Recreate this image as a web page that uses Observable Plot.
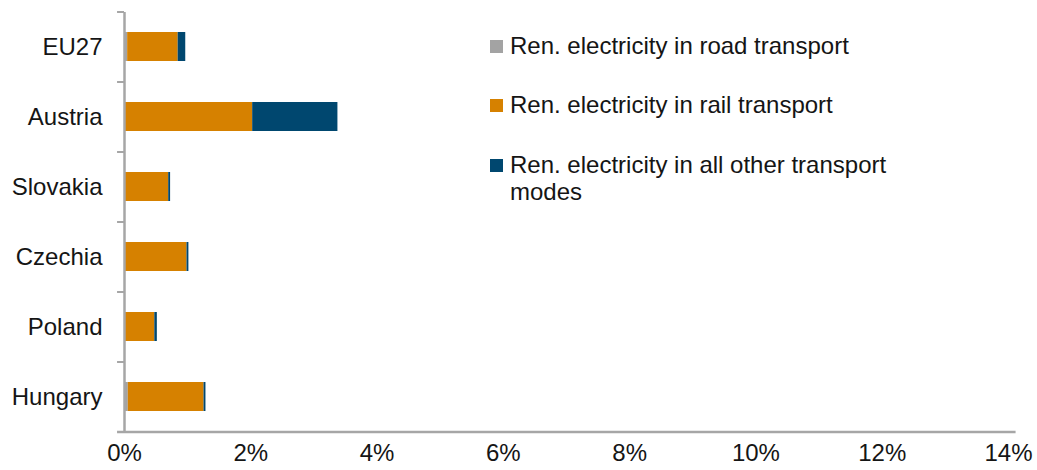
<!DOCTYPE html>
<html>
<head>
<meta charset="utf-8">
<script src="https://cdn.jsdelivr.net/npm/d3@7"></script>
<script src="https://cdn.jsdelivr.net/npm/@observablehq/plot@0.6"></script>
<style>
  html, body { margin: 0; padding: 0; background: #fff; }
  #wrap { position: relative; width: 1037px; height: 470px; overflow: hidden; font-family: "Liberation Sans", Arial, sans-serif; }
  #legend { position: absolute; left: 490px; top: 0; font-size: 24px; color: #151515; }
  .item { position: absolute; left: 0; white-space: nowrap; line-height: 27px; }
  .sw { position: absolute; left: 0; width: 13px; height: 13px; }
  .lab { position: absolute; left: 20px; }
</style>
</head>
<body>
<div id="wrap"><div id="legend"></div></div>
<script>
const countries = ["EU27", "Austria", "Slovakia", "Czechia", "Poland", "Hungary"];
const seriesNames = [
  "Ren. electricity in road transport",
  "Ren. electricity in rail transport",
  "Ren. electricity in all other transport modes"
];
const legendLines = [
  ["Ren. electricity in road transport"],
  ["Ren. electricity in rail transport"],
  ["Ren. electricity in all other transport", "modes"]
];
const colors = ["#a3a3a3", "#d68100", "#00476f"];
const roadValues  = [0.05, 0.00, 0.01, 0.01, 0.00, 0.06];
const railValues  = [0.80, 2.03, 0.69, 0.98, 0.48, 1.20];
const otherValues = [0.12, 1.35, 0.03, 0.03, 0.04, 0.03];
const xTicks = [0, 2, 4, 6, 8, 10, 12, 14];

const data = [];
countries.forEach((c, i) => {
  data.push({country: c, series: seriesNames[0], value: roadValues[i]});
  data.push({country: c, series: seriesNames[1], value: railValues[i]});
  data.push({country: c, series: seriesNames[2], value: otherValues[i]});
});

const axisColor = "#a6a6a6";
const font = "Liberation Sans, Arial, sans-serif";

const chart = Plot.plot({
  width: 1037,
  height: 470,
  marginLeft: 124,
  marginRight: 29,
  marginTop: 12,
  marginBottom: 38,
  style: {fontFamily: font, fontSize: "24px", color: "#151515", background: "#fff", overflow: "visible"},
  x: {domain: [0, 14], ticks: xTicks, tickFormat: d => d + "%", label: null},
  y: {domain: countries, paddingInner: 0.58, paddingOuter: 0.29, label: null},
  color: {domain: seriesNames, range: colors},
  marks: [
    Plot.barX(data, Plot.stackX({y: "country", x: "value", fill: "series", order: null})),
    Plot.ruleY(countries, {y: d => d, x1: -0.11, x2: 0, dy: -35, stroke: axisColor, strokeWidth: 2, clip: false}),
    Plot.ruleX([0], {stroke: axisColor, strokeWidth: 2.5}),
    Plot.ruleY([countries[countries.length - 1]], {y: d => d, x1: -0.11, x2: 14.12, dy: 35, stroke: axisColor, strokeWidth: 2.5, clip: false}),
    Plot.axisX({ticks: xTicks, tickFormat: d => d + "%", tickSize: 0, tickPadding: 11, label: null, fontSize: 24}),
    Plot.axisY({tickSize: 0, tickPadding: 22, label: null, fontSize: 24})
  ]
});
document.getElementById("wrap").prepend(chart);
chart.style.position = "absolute";
chart.style.left = "0";
chart.style.top = "0";

const legend = document.getElementById("legend");
const rowTops = [32, 91, 151];
legendLines.forEach((lines, i) => {
  const item = document.createElement("div");
  item.className = "item";
  item.style.top = rowTops[i] + "px";
  const sw = document.createElement("div");
  sw.className = "sw";
  sw.style.background = colors[i];
  sw.style.top = "8px";
  const lab = document.createElement("div");
  lab.className = "lab";
  lab.innerHTML = lines.join("<br>");
  item.appendChild(sw);
  item.appendChild(lab);
  legend.appendChild(item);
});
</script>
</body>
</html>
